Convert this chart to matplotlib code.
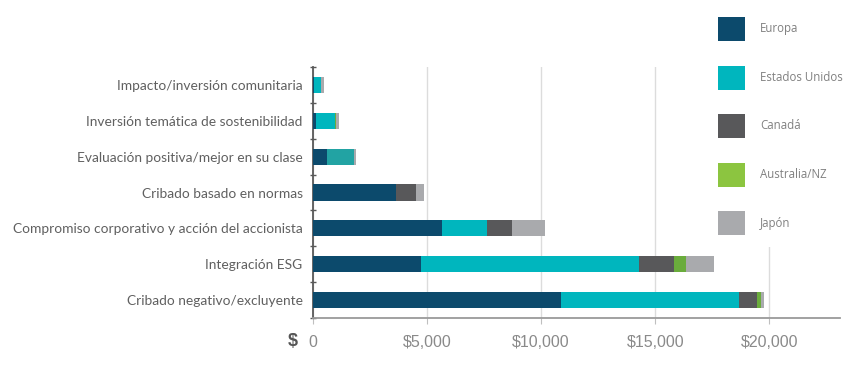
import matplotlib
matplotlib.use("Agg")
import matplotlib.pyplot as plt
from matplotlib.patches import Patch
import numpy as np

categories = [
    "Impacto/inversión comunitaria",
    "Inversión temática de sostenibilidad",
    "Evaluación positiva/mejor en su clase",
    "Cribado basado en normas",
    "Compromiso corporativo y acción del accionista",
    "Integración ESG",
    "Cribado negativo/excluyente",
]
series_names = ["Europa", "Estados Unidos", "Canadá", "Australia/NZ", "Japón"]
europa = [60, 140, 610, 3640, 5640, 4740, 10850]
estados_unidos = [300, 840, 1170, 0, 2000, 9570, 7830]
canada = [0, 0, 0, 890, 1090, 1510, 760]
australia_nz = [0, 40, 0, 0, 0, 550, 180]
japon = [140, 140, 120, 340, 1460, 1200, 170]
xticks = [0, 5000, 10000, 15000, 20000]
xticklabels = ["0", "$5,000", "$10,000", "$15,000", "$20,000"]

colors = ["#0c4a6c", "#00b6be", "#58585a", "#6aac3c", "#a9aaad"]
legend_colors = ["#0c4a6c", "#00b6be", "#58585a", "#8cc540", "#a9aaad"]

fig = plt.figure(figsize=(8.65, 3.74), dpi=100)
ax = fig.add_axes([313 / 865, 1 - 318 / 374, (840 - 313) / 865, (318 - 67) / 374])

y = np.arange(len(categories))
left = np.zeros(len(categories))
for name, vals, c in zip(series_names, [europa, estados_unidos, canada, australia_nz, japon], colors):
    vals = np.array(vals, dtype=float)
    ax.barh(y, vals, left=left, height=0.45, color=c, zorder=3, linewidth=0)
    left += vals
# muted teal segment on the "Evaluación" bar as in the reference
ax.patches[len(categories) + 2].set_facecolor("#22a3a3")

ax.set_ylim(len(categories) - 0.5, -0.5)
ax.set_xlim(0, 23100)
ax.set_yticks(y)
ax.set_yticklabels(categories, fontsize=9.95, color="#606060", family="Lato")
ax.set_yticks(np.arange(-0.5, len(categories), 1), minor=True)
ax.tick_params(axis="y", which="major", length=0, pad=7.5)
ax.tick_params(axis="y", which="minor", length=4, direction="inout", color="#595959", width=1)

ax.set_xticks(xticks)
ax.set_xticklabels(xticklabels, fontsize=11.5, color="#8a8a8a", family="Liberation Sans")
ax.tick_params(axis="x", length=4, direction="out", color="#bfbfbf", pad=8)

ax.grid(axis="x", color="#dcdcdc", linewidth=1, zorder=0)
for s in ["top", "right"]:
    ax.spines[s].set_visible(False)
ax.spines["left"].set_color("#595959")
ax.spines["left"].set_linewidth(1.3)
ax.spines["bottom"].set_color("#9a9a9a")
ax.spines["bottom"].set_linewidth(1.3)

fig.text(293 / 865, 1 - 341 / 374, "$", fontsize=13, fontweight="bold", color="#555555",
         ha="center", va="center", family="Liberation Sans")

handles = [Patch(facecolor=c, edgecolor="none") for c in legend_colors]
fs = 8.3
em = fs * 100 / 72
leg = fig.legend(handles, series_names, loc="upper left",
                 bbox_to_anchor=((718 - em) / 865, 1 - (17 - em) / 374), frameon=True,
                 prop={"family": "Open Sans", "size": fs},
                 handlelength=27 / em, handleheight=2.83, labelspacing=24.5 / em,
                 handletextpad=15 / em, borderpad=1.0, borderaxespad=0)
leg.get_frame().set_facecolor("white")
leg.get_frame().set_edgecolor("none")
leg.get_frame().set_alpha(1)
for t in leg.get_texts():
    t.set_color("#808080")

fig.savefig("out.png", dpi=100, facecolor="white")
